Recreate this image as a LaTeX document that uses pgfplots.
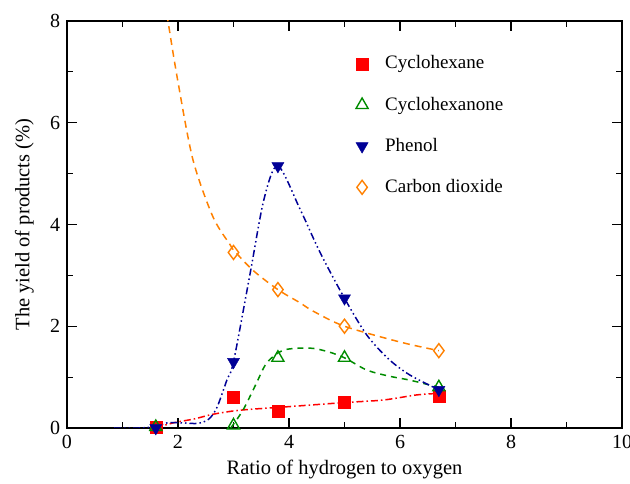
\documentclass[border=0pt]{standalone}
\usepackage{fontspec}
\setmainfont{Liberation Serif}
\usepackage{pgfplots}
\pgfplotsset{compat=1.18}
\definecolor{cyred}{RGB}{255,0,0}
\definecolor{cygreen}{RGB}{0,140,0}
\definecolor{cyblue}{RGB}{0,0,150}
\definecolor{cyorange}{RGB}{255,128,0}
\begin{document}
\fontsize{20}{24}\selectfont
\begin{tikzpicture}
\useasboundingbox (-67pt,-56pt) rectangle (563pt,428pt);
\begin{axis}[
  scale only axis, width=555pt, height=407pt,
  xmin=0, xmax=10, ymin=0, ymax=8,
  xtick={0,2,...,10}, ytick={0,2,...,8},
  minor x tick num=1, minor y tick num=1,
  tick align=inside, major tick length=10pt, minor tick length=6pt,
  axis line style={line width=1.2pt}, every tick/.style={line width=1.1pt,black},
  /pgf/number format/assume math mode=true,
  tick label style={font=\fontsize{20}{24}\selectfont},
  label style={font=\fontsize{20.5}{24}\selectfont},
  xlabel={Ratio of hydrogen to oxygen},
  ylabel={The yield of products (\%)},
  xlabel style={at={(axis description cs:0.5,-0.103)}, anchor=center},
  ylabel style={at={(axis description cs:-0.077,0.5)}, anchor=center},
  legend style={draw=none, fill=none, at={(0.515,0.925)}, anchor=north west,
    font=\fontsize{19}{23}\selectfont, row sep=21pt,
    /tikz/every odd column/.append style={column sep=15pt}},
  legend cell align=left,
]
% fitted curves
\addplot[cyred, line width=1.5pt, smooth, dash pattern=on 7pt off 3pt on 1.5pt off 3pt, forget plot] coordinates {
(1.6,0.0) (1.91,0.1) (2.3,0.18) (2.63,0.27) (3.12,0.35) (4.0,0.42) (5.0,0.5) (5.7,0.55) (6.3,0.65) (6.7,0.68)};
\addplot[cygreen, line width=1.5pt, smooth, dash pattern=on 6pt off 5pt, forget plot] coordinates {
(2.95,0.0) (3.17,0.35) (3.4,0.85) (3.6,1.28) (3.9,1.53) (4.38,1.57) (4.7,1.5) (5.0,1.38) (5.4,1.14) (5.8,1.02) (6.18,0.94) (6.7,0.8)};
\addplot[cyblue, line width=1.5pt, smooth, dash pattern=on 7pt off 3pt on 1.5pt off 3pt on 1.5pt off 3pt, forget plot] coordinates {
(0.85,0.0) (1.3,0.0) (1.6,0.03) (1.8,0.1) (2.1,0.1) (2.35,0.09) (2.55,0.17) (2.7,0.4) (2.88,0.94) (3.0,1.3) (3.3,3.04) (3.55,4.5) (3.8,5.15) (4.2,4.3) (4.56,3.45) (5.0,2.55) (5.4,1.83) (5.8,1.35) (6.18,1.04) (6.7,0.75)};
\addplot[cyorange, line width=1.5pt, smooth, dash pattern=on 7pt off 5pt, forget plot] coordinates {
(1.75,8.6) (1.82,8.0) (2.0,6.8) (2.27,5.27) (2.63,4.15) (2.94,3.6) (3.0,3.5) (3.35,3.1) (3.8,2.72) (4.2,2.46) (4.43,2.3) (5.0,2.0) (6.0,1.69) (6.7,1.52)};
% data points
\addplot[only marks, mark=square*, mark size=6pt, cyred] coordinates {
(1.6,0.02) (3.0,0.6) (3.8,0.33) (5.0,0.5) (6.7,0.62)};
\addlegendentry{Cyclohexane}
\addplot[only marks, mark=triangle, mark size=7pt, cygreen, mark options={line width=1.4pt}] coordinates {
(1.6,0.02) (3.0,0.05) (3.8,1.38) (5.0,1.38) (6.7,0.8)};
\addlegendentry{Cyclohexanone}
\addplot[only marks, mark=triangle*, mark size=7pt, cyblue, mark options={rotate=180}] coordinates {
(1.6,0.0) (3.0,1.3) (3.8,5.15) (5.0,2.55) (6.7,0.75)};
\addlegendentry{Phenol}
\addplot[only marks, mark=diamond, mark size=7pt, cyorange, mark options={line width=1.4pt}] coordinates {
(3.0,3.45) (3.8,2.72) (5.0,2.0) (6.7,1.52)};
\addlegendentry{Carbon dioxide}
\end{axis}
\end{tikzpicture}
\end{document}
